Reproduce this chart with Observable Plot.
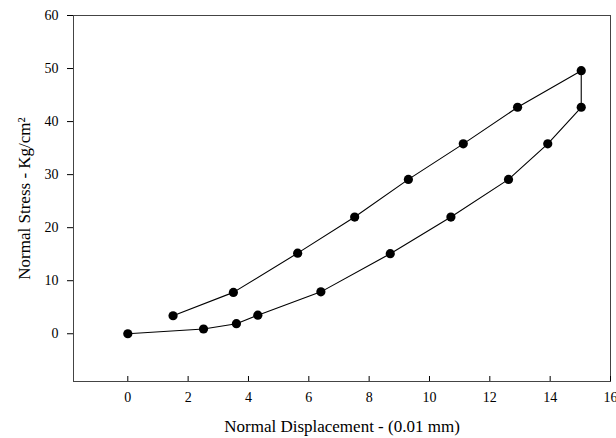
<!DOCTYPE html>
<html><head><meta charset="utf-8">
<script src="https://cdn.jsdelivr.net/npm/d3@7"></script>
<script src="https://cdn.jsdelivr.net/npm/@observablehq/plot@0.6"></script>
<style>body{margin:0;background:#fff}</style>
</head><body><div id="chart"></div>
<script>
// Loading branch (upper curve), from low to high
const upperX = [1.5, 3.5, 5.63, 7.52, 9.3, 11.12, 12.92, 15.03];
const upperY = [3.4, 7.8, 15.2, 22.0, 29.1, 35.8, 42.7, 49.6];
// Unloading branch (lower curve), from high to low
const lowerX = [15.03, 13.92, 12.62, 10.71, 8.7, 6.4, 4.31, 3.6, 2.51, 0];
const lowerY = [42.7, 35.8, 29.1, 22.0, 15.1, 7.9, 3.5, 1.9, 0.9, 0];
const xTicks = [0, 2, 4, 6, 8, 10, 12, 14, 16];
const yTicks = [0, 10, 20, 30, 40, 50, 60];
const xLabel = "Normal Displacement - (0.01 mm)";
const yLabel = "Normal Stress - Kg/cm²";

const path = upperX.map((x, i) => ({x, y: upperY[i]}))
  .concat(lowerX.map((x, i) => ({x, y: lowerY[i]})));

const chart = Plot.plot({
  width: 616,
  height: 438,
  marginLeft: 73,
  marginRight: 6,
  marginTop: 15,
  marginBottom: 57,
  style: {fontFamily: "Liberation Serif", fontSize: "14px", color: "#000", background: "#fff"},
  x: {domain: [-1.8, 16]},
  y: {domain: [-9, 60]},
  marks: [
    Plot.frame({stroke: "#444"}),
    Plot.axisY(yTicks, {tickSize: 6, tickPadding: 9, fontSize: 14, label: null}),
    Plot.axisY({ticks: [], tickSize: 0, label: yLabel, labelAnchor: "center", labelOffset: 56, labelArrow: "none", fontSize: 17}),
    Plot.axisX(xTicks, {tickSize: -5, tickPadding: 16, fontSize: 14, label: null}),
    Plot.axisX({ticks: [], tickSize: 0, label: xLabel, labelAnchor: "center", labelOffset: 50, labelArrow: "none", fontSize: 17}),
    Plot.line(path, {x: "x", y: "y", stroke: "#000", strokeWidth: 1.1}),
    Plot.dot(path, {x: "x", y: "y", fill: "#000", r: 4.6})
  ]
});
document.getElementById("chart").appendChild(chart);
</script>
</body></html>
